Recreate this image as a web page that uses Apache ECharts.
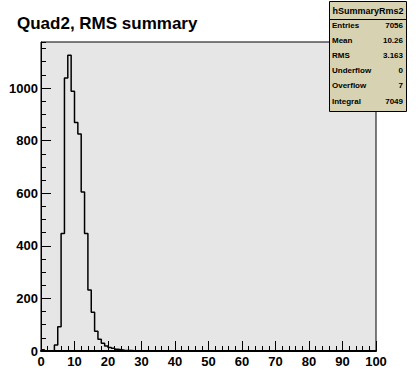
<!DOCTYPE html>
<html><head><meta charset="utf-8">
<script src="https://cdn.jsdelivr.net/npm/echarts@6/dist/echarts.min.js"></script>
<style>html,body{margin:0;padding:0;background:#fff}#c{width:418px;height:390px}</style>
</head><body><div id="c"></div>
<script>
const chartTitle = 'Quad2, RMS summary';
const histName = 'hSummaryRms2';
const binLow = 0;
const binWidth = 1;
const binCounts = [
  5, 0, 0, 1, 23, 92, 447, 1038, 1125, 988,
  869, 825, 605, 447, 232, 147, 75, 45, 29, 19,
  13, 10, 7, 5, 3, 2, 2, 1, 1, 0,
  0, 0, 0, 0, 0, 0, 0, 0, 0, 0,
  0, 0, 0, 0, 0, 0, 0, 0, 0, 0,
  0, 0, 0, 0, 0, 0, 0, 0, 0, 0,
  0, 0, 0, 0, 0, 0, 0, 0, 0, 0,
  0, 0, 0, 0, 0, 0, 0, 0, 0, 0,
  0, 0, 0, 0, 0, 0, 0, 0, 0, 0,
  0, 0, 0, 0, 0, 0, 0, 0, 0, 0
];
const statNames = ['Entries', 'Mean', 'RMS', 'Underflow', 'Overflow', 'Integral'];
const statValues = ['7056', '10.26', '3.163', '0', '7', '7049'];
const xMin = 0, xMax = 100, yMax = 1175;

const stepData = binCounts.map((v, i) => [binLow + i * binWidth, v]);
stepData.push([binLow + binCounts.length * binWidth, binCounts[binCounts.length - 1]]);

const font = 'Liberation Sans, Arial, Helvetica, sans-serif';
const labelStyle = { color: '#000', fontFamily: font, fontWeight: 'bold', fontSize: 13 };

const box = { x: 329, y: 1, w: 77, h: 110, head: 19 };
const statsGraphics = [
  { type: 'rect', shape: { x: box.x + 0.5, y: box.y + 0.5, width: box.w, height: box.h },
    style: { fill: '#d6d2b2', stroke: '#000', lineWidth: 1 }, z: 100 },
  { type: 'line', shape: { x1: box.x, y1: box.head + 0.5, x2: box.x + box.w, y2: box.head + 0.5 },
    style: { stroke: '#000', lineWidth: 1 }, z: 101 },
  { type: 'text', x: box.x + box.w / 2 + 0.5, y: 10.5, z: 102,
    style: { text: histName, fill: '#000', font: 'bold 9px ' + font, textAlign: 'center', textVerticalAlign: 'middle' } }
];
statNames.forEach((n, i) => {
  const yy = 25.5 + i * 15.1;
  statsGraphics.push({ type: 'text', x: box.x + 3, y: yy, z: 102,
    style: { text: n, fill: '#000', font: 'bold 8px ' + font, textAlign: 'left', textVerticalAlign: 'middle' } });
  statsGraphics.push({ type: 'text', x: box.x + box.w - 3, y: yy, z: 102,
    style: { text: statValues[i], fill: '#000', font: 'bold 8px ' + font, textAlign: 'right', textVerticalAlign: 'middle' } });
});

const chart = echarts.init(document.getElementById('c'), null, { renderer: 'svg' });
chart.setOption({
  animation: false,
  backgroundColor: '#fff',
  title: { text: chartTitle, left: 12, top: 10,
    textStyle: { color: '#000', fontFamily: font, fontWeight: 'bold', fontSize: 17 } },
  grid: { left: 41, right: 42, top: 42, bottom: 39, show: true,
    backgroundColor: '#e6e6e6', borderColor: '#000', borderWidth: 1 },
  xAxis: [{
    type: 'value', min: xMin, max: xMax, interval: 10,
    axisLine: { show: true, onZero: false, lineStyle: { color: '#000', width: 2 } },
    axisTick: { show: true, inside: true, length: 10, lineStyle: { color: '#000' } },
    minorTick: { show: true, splitNumber: 5, length: 5, lineStyle: { color: '#000' } },
    splitLine: { show: false },
    axisLabel: Object.assign({ margin: 4, formatter: v => String(v) }, labelStyle)
  }],
  yAxis: [{
    type: 'value', min: 0, max: yMax, interval: 200, position: 'left',
    axisLine: { show: true, lineStyle: { color: '#000', width: 1 } },
    axisTick: { show: true, inside: true, length: 10, lineStyle: { color: '#000' } },
    splitLine: { show: false },
    axisLabel: Object.assign({ margin: 3, showMaxLabel: false, formatter: v => String(v) }, labelStyle)
  }, {
    type: 'value', min: 0, max: yMax, interval: 50, position: 'left', offset: 0,
    axisLine: { show: false },
    axisTick: { show: true, inside: true, length: 5, lineStyle: { color: '#000' } },
    splitLine: { show: false },
    axisLabel: { show: false }
  }],
  graphic: statsGraphics,
  series: [{
    type: 'line', step: 'end', data: stepData, xAxisIndex: 0, yAxisIndex: 0,
    showSymbol: false, symbol: 'none',
    lineStyle: { color: '#000', width: 1.5 }
  }]
});
</script></body></html>
